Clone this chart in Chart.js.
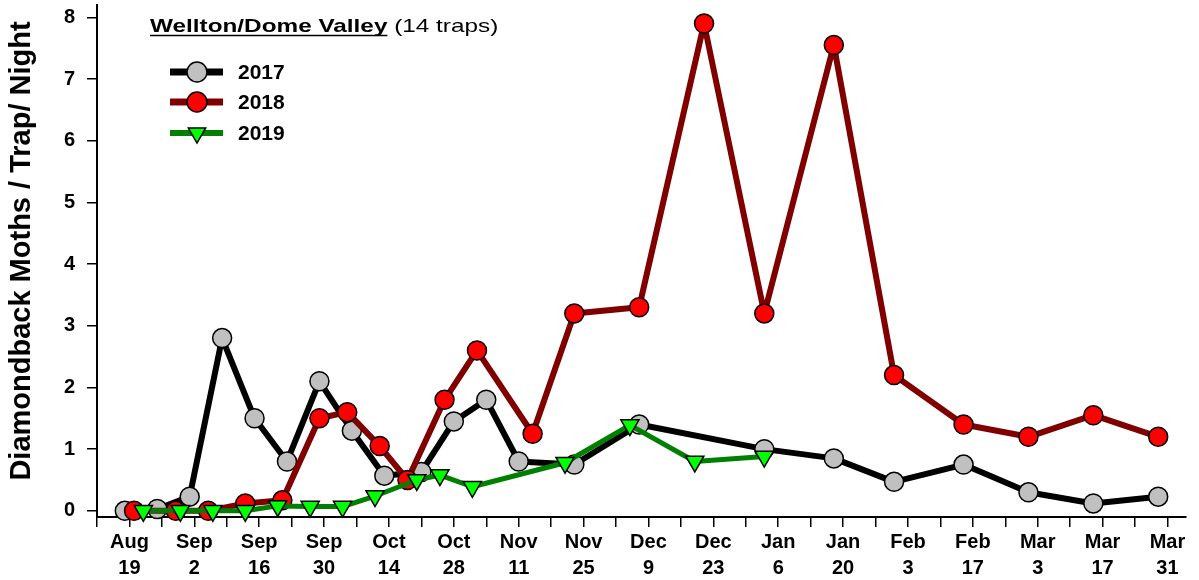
<!DOCTYPE html>
<html>
<head>
<meta charset="utf-8">
<title>Diamondback moths - Wellton/Dome Valley</title>
<script src="https://cdn.jsdelivr.net/npm/chart.js@4.4.1/dist/chart.umd.min.js"></script>
<style>
  html, body { margin: 0; padding: 0; background: #fff; }
  #wrap { width: 1199px; height: 580px; }
</style>
</head>
<body>
<div id="wrap"><canvas id="chart" width="1199" height="580"></canvas></div>
<script>
// x values are days counted from Aug 19
var days2017  = [-1, 6, 13, 20, 27, 34, 41, 48, 55, 63, 70, 77, 84, 96, 110, 137, 152, 165, 180, 194, 208, 222];
var moths2017 = [0.0, 0.03, 0.23, 2.8, 1.5, 0.8, 2.1, 1.3, 0.57, 0.63, 1.45, 1.8, 0.8, 0.75, 1.4, 1.0, 0.85, 0.47, 0.75, 0.3, 0.12, 0.23];

var days2018  = [1, 10, 17, 25, 33, 41, 47, 54, 60, 68, 75, 87, 96, 110, 124, 137, 152, 165, 180, 194, 208, 222];
var moths2018 = [0.0, 0.0, 0.0, 0.12, 0.17, 1.5, 1.6, 1.05, 0.5, 1.8, 2.6, 1.25, 3.2, 3.3, 7.9, 3.2, 7.55, 2.2, 1.4, 1.2, 1.55, 1.2];

var days2019  = [3, 11, 18, 25, 32, 39, 46, 53, 62, 67, 74, 94, 108, 122, 137];
var moths2019 = [0.0, 0.0, 0.0, 0.0, 0.08, 0.07, 0.07, 0.24, 0.5, 0.58, 0.39, 0.78, 1.39, 0.8, 0.88];

var seriesNames = ['2017', '2018', '2019'];

var xTickLabels = [
  ['Aug', '19'], ['Sep', '2'], ['Sep', '16'], ['Sep', '30'], ['Oct', '14'], ['Oct', '28'],
  ['Nov', '11'], ['Nov', '25'], ['Dec', '9'], ['Dec', '23'], ['Jan', '6'], ['Jan', '20'],
  ['Feb', '3'], ['Feb', '17'], ['Mar', '3'], ['Mar', '17'], ['Mar', '31']
];
var yTickValues = [0, 1, 2, 3, 4, 5, 6, 7, 8];
var yTitle = 'Diamondback Moths / Trap/ Night';

var FONT = "'Liberation Sans', Arial, Helvetica, sans-serif";

// weekly tick marks, labelled every second one
var xTickValues = [];
for (var d = -7; d <= 224; d += 7) xTickValues.push(d);

function points(days, vals) {
  return days.map(function (day, i) { return { x: day, y: vals[i] }; });
}

var styles = [
  { line: '#000000', fill: '#c0c0c0', shape: 'circle',   width: 6, rot: 0 },
  { line: '#800000', fill: '#ff0000', shape: 'circle',   width: 6, rot: 0 },
  { line: '#008000', fill: '#00ff00', shape: 'triangle', width: 5, rot: 180 }
];

function drawMarker(ctx, st, x, y, r) {
  ctx.beginPath();
  if (st.shape === 'circle') {
    ctx.arc(x, y, r, 0, Math.PI * 2);
  } else {
    // downward triangle, centroid at (x, y)
    ctx.moveTo(x, y + r);
    ctx.lineTo(x - r * Math.sin(Math.PI / 3), y - r / 2);
    ctx.lineTo(x + r * Math.sin(Math.PI / 3), y - r / 2);
    ctx.closePath();
  }
  ctx.fillStyle = st.fill;
  ctx.fill();
  ctx.lineWidth = 1.5;
  ctx.strokeStyle = '#000';
  ctx.stroke();
}

// heading, legend and y title
var overlay = {
  id: 'overlay',
  afterDraw: function (chart) {
    var ctx = chart.ctx;
    ctx.save();
    ctx.fillStyle = '#000';
    ctx.textBaseline = 'alphabetic';
    ctx.textAlign = 'left';

    var sx = 1.28;
    ctx.save();
    ctx.translate(150, 32);
    ctx.scale(sx, 1);
    ctx.font = 'bold 19px ' + FONT;
    var head = 'Wellton/Dome Valley';
    var w = ctx.measureText(head).width;
    ctx.fillText(head, 0, 0);
    ctx.font = '19px ' + FONT;
    ctx.fillText(' (14 traps)', w, 0);
    ctx.restore();
    ctx.beginPath();
    ctx.moveTo(150, 35.5);
    ctx.lineTo(150 + w * sx, 35.5);
    ctx.lineWidth = 1.5;
    ctx.strokeStyle = '#000';
    ctx.stroke();

    var rows = [72, 102, 133];
    for (var i = 0; i < 3; i++) {
      var st = styles[i];
      ctx.beginPath();
      ctx.moveTo(170, rows[i]);
      ctx.lineTo(223, rows[i]);
      ctx.lineWidth = st.width + 1;
      ctx.strokeStyle = st.line;
      ctx.stroke();
      drawMarker(ctx, st, 197, rows[i], 10);
      ctx.fillStyle = '#000';
      ctx.font = 'bold 21px ' + FONT;
      ctx.textBaseline = 'middle';
      ctx.fillText(seriesNames[i], 238, rows[i] + 1);
    }

    ctx.save();
    ctx.translate(22, 251);
    ctx.rotate(-Math.PI / 2);
    ctx.textAlign = 'center';
    ctx.textBaseline = 'middle';
    ctx.font = 'bold 29px ' + FONT;
    ctx.fillText(yTitle, 0, 0);
    ctx.restore();

    ctx.restore();
  }
};

function makeSet(i, days, vals, order) {
  var st = styles[i];
  return {
    label: seriesNames[i],
    data: points(days, vals),
    borderColor: st.line,
    borderWidth: st.width,
    borderJoinStyle: 'round',
    borderCapStyle: 'round',
    pointStyle: st.shape,
    pointRotation: st.rot,
    pointRadius: st.shape === 'circle' ? 9.5 : 10.5,
    pointBackgroundColor: st.fill,
    pointBorderColor: '#000',
    pointBorderWidth: 1.5,
    tension: 0,
    clip: false,
    order: order
  };
}

var ctx = document.getElementById('chart').getContext('2d');
var chart = new Chart(ctx, {
  type: 'line',
  data: {
    datasets: [
      makeSet(0, days2017, moths2017, 2),
      makeSet(1, days2018, moths2018, 1),
      makeSet(2, days2019, moths2019, 0)
    ]
  },
  options: {
    responsive: false,
    animation: false,
    layout: { autoPadding: false, padding: { top: 5, right: 13, left: 0, bottom: 0 } },
    plugins: {
      legend: { display: false },
      tooltip: { enabled: false }
    },
    scales: {
      x: {
        type: 'linear',
        min: -7,
        max: 228,
        afterBuildTicks: function (scale) {
          scale.ticks = xTickValues.map(function (v) { return { value: v }; });
        },
        afterFit: function (scale) {
          scale.height = 63;
          scale.paddingLeft = 0;
          scale.paddingRight = 0;
        },
        grid: { drawOnChartArea: false, drawTicks: true, tickLength: 10, color: '#000', lineWidth: 1.5 },
        border: { color: '#000', width: 2 },
        ticks: {
          autoSkip: false,
          maxRotation: 0,
          minRotation: 0,
          padding: 2,
          color: '#000',
          font: { family: FONT, size: 20, weight: 'bold', lineHeight: 1.3 },
          callback: function (value) {
            if (value >= 0 && value % 14 === 0) return xTickLabels[value / 14];
            return '';
          }
        }
      },
      y: {
        min: -0.1,
        max: 8.2,
        afterBuildTicks: function (scale) {
          scale.ticks = yTickValues.map(function (v) { return { value: v }; });
        },
        afterFit: function (scale) {
          scale.width = 97;
          scale.paddingTop = 0;
          scale.paddingBottom = 0;
        },
        grid: { drawOnChartArea: false, drawTicks: true, tickLength: 10, color: '#000', lineWidth: 1.5 },
        border: { color: '#000', width: 2 },
        ticks: {
          padding: 12,
          color: '#000',
          font: { family: FONT, size: 20, weight: 'bold' }
        }
      }
    }
  },
  plugins: [overlay]
});
</script>
</body>
</html>
